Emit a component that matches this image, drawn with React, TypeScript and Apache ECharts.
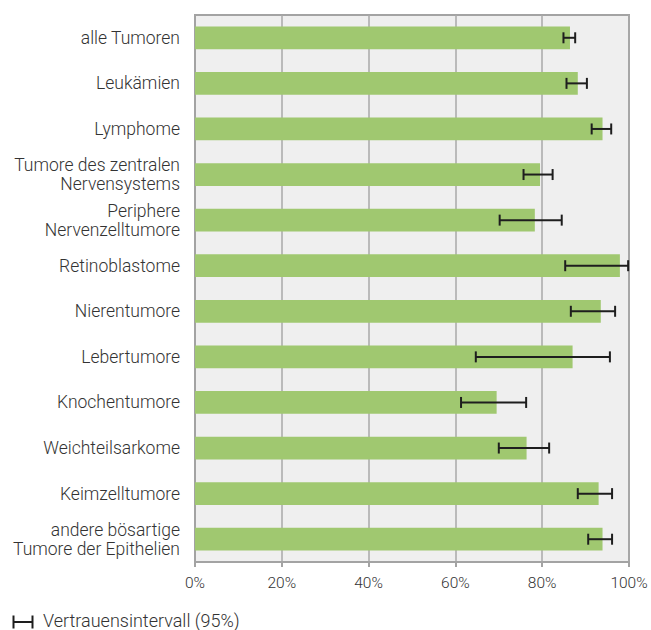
import React, { useEffect, useRef } from "react";
import * as echarts from "echarts";

const categories = [
  "alle Tumoren",
  "Leukämien",
  "Lymphome",
  "Tumore des zentralen\nNervensystems",
  "Periphere\nNervenzelltumore",
  "Retinoblastome",
  "Nierentumore",
  "Lebertumore",
  "Knochentumore",
  "Weichteilsarkome",
  "Keimzelltumore",
  "andere bösartige\nTumore der Epithelien",
];
const values = [86.4, 88.2, 93.9, 79.5, 78.3, 97.9, 93.5, 87.0, 69.5, 76.4, 93.0, 93.9];
const lower = [84.9, 85.6, 91.4, 75.7, 70.2, 85.3, 86.6, 64.7, 61.3, 70.0, 88.2, 90.6];
const upper = [87.6, 90.3, 95.9, 82.4, 84.5, 99.8, 96.8, 95.6, 76.3, 81.6, 96.1, 96.1];
const xTicks = [0, 20, 40, 60, 80, 100];
const legendLabel = "Vertrauensintervall (95%)";

const FONT = "Roboto";
const TEXT = "#333333";
const ERR = "#1e1e1e";

export default function App() {
  const ref = useRef<HTMLDivElement>(null);
  useEffect(() => {
    if (!ref.current) return;
    const chart = echarts.init(ref.current, null, { renderer: "svg" });
    const errData = categories.map((c, i) => [i, lower[i], upper[i]]);
    chart.setOption({
      animation: false,
      grid: {
        left: 195,
        right: 22,
        top: 15,
        bottom: 68,
        show: true,
        backgroundColor: "#efefef",
        borderColor: "#a3a3a3",
        borderWidth: 2,
      },
      xAxis: {
        type: "value",
        min: xTicks[0],
        max: xTicks[xTicks.length - 1],
        interval: 20,
        axisLine: { show: true, lineStyle: { color: "#a3a3a3", width: 2 } },
        axisTick: { show: true, length: 5, lineStyle: { color: "#a3a3a3", width: 2 } },
        splitLine: { show: true, lineStyle: { color: "#a8a8a8", width: 1.5 } },
        axisLabel: {
          formatter: "{value}%",
          fontFamily: FONT,
          fontWeight: 300,
          fontSize: 15.5,
          color: TEXT,
          margin: 13,
        },
      },
      yAxis: {
        type: "category",
        data: categories,
        inverse: true,
        axisLine: { show: true, lineStyle: { color: "#a3a3a3", width: 2 } },
        axisTick: { show: false },
        splitLine: { show: false },
        axisLabel: {
          fontFamily: FONT,
          fontWeight: 300,
          fontSize: 17.5,
          color: TEXT,
          margin: 15,
          lineHeight: 19,
          align: "right",
        },
      },
      series: [
        {
          type: "bar",
          data: values,
          barWidth: "50%",
          itemStyle: { color: "#a0c870" },
          z: 2,
        },
        {
          type: "custom",
          name: legendLabel,
          data: errData,
          z: 5,
          encode: { x: [1, 2], y: 0 },
          renderItem: (params: any, api: any) => {
            const idx = api.value(0);
            const lo = api.coord([api.value(1), idx]);
            const hi = api.coord([api.value(2), idx]);
            const h = 5.5;
            const style = { stroke: ERR, lineWidth: 2 };
            return {
              type: "group",
              children: [
                { type: "line", shape: { x1: lo[0], y1: lo[1], x2: hi[0], y2: hi[1] }, style },
                { type: "line", shape: { x1: lo[0], y1: lo[1] - h, x2: lo[0], y2: lo[1] + h }, style },
                { type: "line", shape: { x1: hi[0], y1: hi[1] - h, x2: hi[0], y2: hi[1] + h }, style },
              ],
            };
          },
        },
      ],
      graphic: [
        {
          type: "group",
          left: 11,
          top: 613,
          children: [
            { type: "line", shape: { x1: 1, y1: 6.5, x2: 20, y2: 6.5 }, style: { stroke: ERR, lineWidth: 2 } },
            { type: "line", shape: { x1: 1, y1: 0, x2: 1, y2: 13 }, style: { stroke: ERR, lineWidth: 2 } },
            { type: "line", shape: { x1: 20, y1: 0, x2: 20, y2: 13 }, style: { stroke: ERR, lineWidth: 2 } },
          ],
        },
        {
          type: "text",
          x: 43,
          y: 620,
          style: {
            text: legendLabel,
            fontFamily: FONT,
            fontWeight: 300,
            fontSize: 18,
            fill: TEXT,
            verticalAlign: "middle",
          },
        },
      ],
    });
    return () => chart.dispose();
  }, []);
  return <div ref={ref} style={{ width: 651, height: 630, position: "absolute", left: 0, top: 0 }} />;
}
